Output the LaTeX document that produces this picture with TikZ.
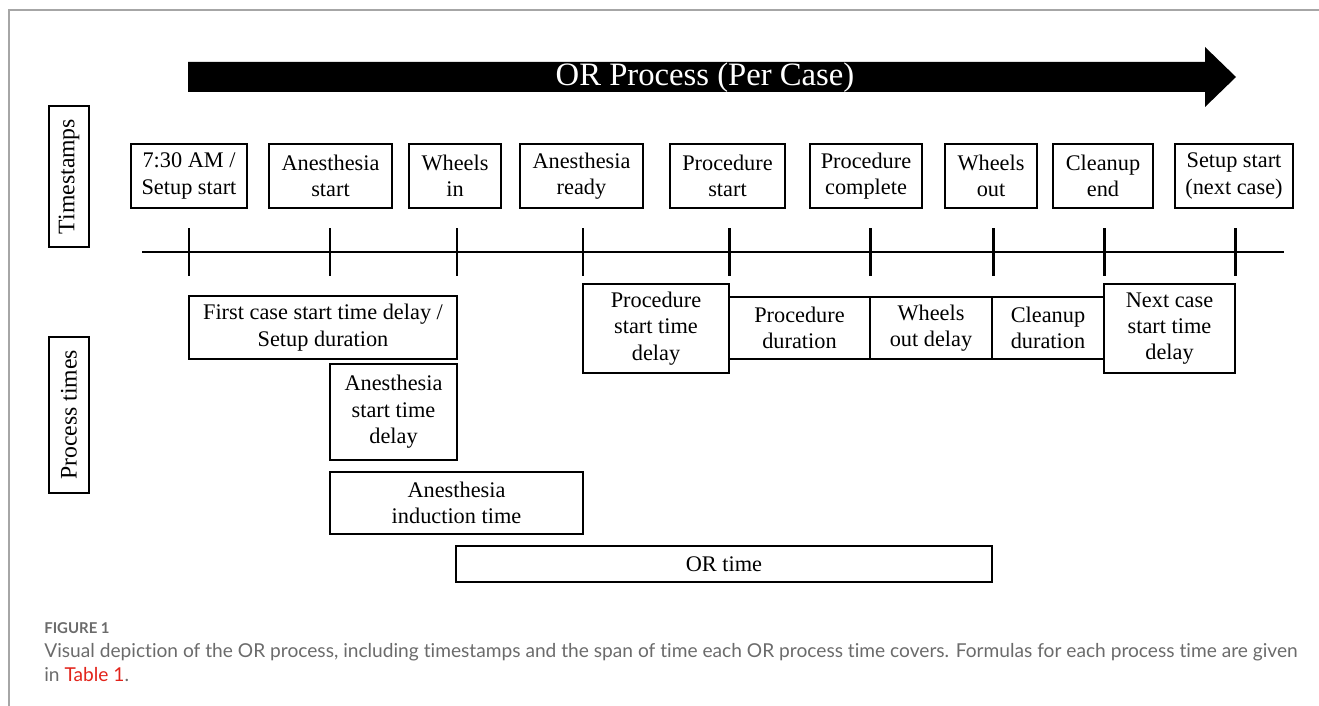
\documentclass[tikz,border=0pt]{standalone}
\usepackage{fontspec}
\setmainfont{Liberation Serif}
\newfontfamily\capfont[Ligatures=NoCommon]{Lato}
\usepackage{xcolor}
\definecolor{capgray}{HTML}{6B6B6B}
\definecolor{capred}{HTML}{E2231A}

\begin{document}
\begin{tikzpicture}[
  x=0.02cm, y=-0.02cm,
  every node/.style={font=\fontsize{12.7}{15}\selectfont},
  stamp/.style={rectangle, draw=black, line width=1.5pt,
                minimum height=1.28cm, align=center, inner sep=0pt},
  spanbox/.style={rectangle, draw=black, line width=1.5pt,
                  inner sep=0pt, align=center},
  sidelabel/.style={rectangle, draw=black, line width=1.5pt, rotate=90,
                    minimum height=0.8cm, inner sep=0pt,
                    font=\fontsize{13.5}{16}\selectfont},
  tickline/.style={line width=1.7pt},
  pageframe/.style={draw=gray!70, line width=0.8pt},
  captext/.style={anchor=base west, inner sep=0pt, text=capgray,
                  font=\capfont\fontsize{10.9}{13}\selectfont},
]
\useasboundingbox (0,0) rectangle (1319,706);

% Frame
\draw[pageframe] (9,706) -- (9,10) -- (1319,10);

% Big arrow
\fill[black] (188,62) -- (1205,62) -- (1205,47) -- (1236,77) -- (1205,107)
  -- (1205,92) -- (188,92) -- cycle;
\node[text=white, font=\fontsize{18.6}{22}\selectfont] (title) at (705,78)
  {OR Process (Per Case)};

% Row labels
\node[sidelabel, minimum width=2.82cm] (tslabel) at (69,176.5) {Timestamps};
\node[sidelabel, minimum width=3.12cm] (ptlabel) at (69,415) {Process times};

% Timestamps
\node[stamp, minimum width=2.32cm] (setup) at (189,176) {7:30 AM /\\Setup start};
\node[stamp, minimum width=2.46cm] (anstart) at (330.5,176) {Anesthesia\\start};
\node[stamp, minimum width=1.84cm] (wheelsin) at (455,176) {Wheels\\in};
\node[stamp, minimum width=2.46cm] (anready) at (581.5,176) {Anesthesia\\ready};
\node[stamp, minimum width=2.30cm] (procstart) at (727.5,176) {Procedure\\start};
\node[stamp, minimum width=2.24cm] (proccomp) at (866,176) {Procedure\\complete};
\node[stamp, minimum width=1.84cm] (wheelsout) at (991,176) {Wheels\\out};
\node[stamp, minimum width=2.00cm] (cleanend) at (1103,176) {Cleanup\\end};
\node[stamp, minimum width=2.36cm] (nextsetup) at (1234,176) {Setup start\\(next case)};

% Time line and ticks
\coordinate (lineL) at (142,252);
\coordinate (lineR) at (1284,252);
\draw[tickline] (lineL) -- (lineR);
\coordinate (t1) at (189,252);
\coordinate (t2) at (330,252);
\coordinate (t3) at (457,252);
\coordinate (t4) at (583,252);
\coordinate (t5) at (729,252);
\coordinate (t6) at (870,252);
\coordinate (t7) at (993,252);
\coordinate (t8) at (1104,252);
\coordinate (t9) at (1235,252);
\draw[tickline] (t1) ++(0,-24) -- ++(0,48);
\draw[tickline] (t2) ++(0,-24) -- ++(0,48);
\draw[tickline] (t3) ++(0,-24) -- ++(0,48);
\draw[tickline] (t4) ++(0,-24) -- ++(0,48);
\draw[tickline] (t5) ++(0,-24) -- ++(0,48);
\draw[tickline] (t6) ++(0,-24) -- ++(0,48);
\draw[tickline] (t7) ++(0,-24) -- ++(0,48);
\draw[tickline] (t8) ++(0,-24) -- ++(0,48);
\draw[tickline] (t9) ++(0,-24) -- ++(0,48);

% Process times
\node[spanbox, minimum width=5.36cm, minimum height=1.26cm] (firstdelay)
  at (323,327.5) {First case start time delay /\\Setup duration};
\node[spanbox, minimum width=2.54cm, minimum height=1.92cm] (anstdelay)
  at (393.5,412) {Anesthesia\\start time\\delay};
\node[spanbox, minimum width=5.06cm, minimum height=1.24cm] (induction)
  at (456.5,503) {Anesthesia\\induction time};
\node[spanbox, minimum width=10.72cm, minimum height=0.72cm] (ortime)
  at (724,564) {OR time};
\node[spanbox, minimum width=2.92cm, minimum height=1.78cm] (procdelay)
  at (656,328.5) {Procedure\\start time\\delay};
\node[spanbox, minimum width=2.82cm, minimum height=1.24cm] (procdur)
  at (799.5,328) {Procedure\\duration};
\node[spanbox, minimum width=2.44cm, minimum height=1.24cm] (wheelsdelay)
  at (931,328) {Wheels\\out delay};
\node[spanbox, minimum width=2.24cm, minimum height=1.24cm] (cleanupdur)
  at (1048,328) {Cleanup\\duration};
\node[spanbox, minimum width=2.62cm, minimum height=1.78cm] (nextdelay)
  at (1169.5,328.5) {Next case\\start time\\delay};

% Caption
\node[captext, font=\capfont\bfseries\fontsize{8.5}{10}\selectfont] (fignum)
  at (44,633) {FIGURE 1};
\node[captext] (capline1) at (44,657) {Visual depiction of the OR process,
  including timestamps and the span of time each OR process time covers.
  Formulas for each process time are given};
\node[captext] (capline2) at (44,681) {in \textcolor{capred}{Table 1}.};
\end{tikzpicture}
\end{document}
